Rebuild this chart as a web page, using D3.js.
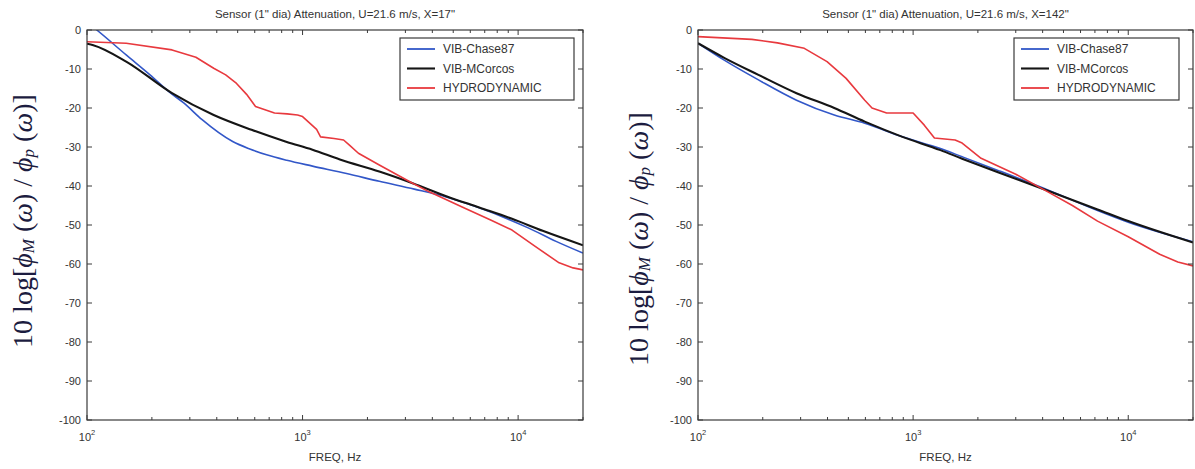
<!DOCTYPE html>
<html><head><meta charset="utf-8">
<script src="https://cdn.jsdelivr.net/npm/d3@7/dist/d3.min.js"></script>
<style>
html,body{margin:0;padding:0;background:#fff;}
svg{display:block;}
</style></head>
<body>
<svg id="chart" width="1195" height="469"></svg>
<script>
// ---- data ----
const seriesNames = ["VIB-Chase87", "VIB-MCorcos", "HYDRODYNAMIC"];
const titles = ["Sensor (1\" dia) Attenuation, U=21.6 m/s, X=17\"",
                "Sensor (1\" dia) Attenuation, U=21.6 m/s, X=142\""];
const yTicks = [0, -10, -20, -30, -40, -50, -60, -70, -80, -90, -100];
const xMajorTicks = [100, 1000, 10000];
const xMajorExp = ["2", "3", "4"];

// left panel (X=17")
const leftBlueF  = [100, 111, 152, 196, 242, 281, 342, 474, 569, 681, 845, 1112, 1600, 2270, 3300, 4640, 6600, 9000, 11200, 15000, 20000];
const leftBlueDB = [2.0, 0, -6.4, -11.5, -16, -18.7, -23, -28.6, -30.5, -32, -33.4, -34.9, -36.8, -38.8, -40.8, -42.8, -45.6, -48.5, -50.8, -54.2, -57.2];
const leftBlackF  = [100, 107, 152, 248, 387, 580, 845, 1112, 1490, 2270, 3240, 4640, 6600, 9370, 13000, 20000];
const leftBlackDB = [-3.5, -3.9, -8.1, -16.2, -21.8, -25.6, -28.7, -30.7, -33.2, -36.3, -39.3, -42.6, -45.5, -48.4, -51.5, -55.2];
const leftRedF  = [100, 152, 248, 320, 387, 440, 494, 550, 605, 680, 741, 848, 948, 1000, 1162, 1212, 1400, 1550, 1650, 1816, 2270, 3240, 3870, 5500, 7500, 9370, 12000, 15500, 18000, 20000];
const leftRedDB = [-3.0, -3.4, -5.1, -7.0, -9.8, -11.5, -13.7, -16.5, -19.6, -20.6, -21.3, -21.5, -21.8, -22.2, -25.5, -27.4, -27.8, -28.2, -29.5, -31.6, -34.6, -39.3, -41.5, -45.4, -48.8, -51.3, -55.5, -59.7, -61.0, -61.5];

// right panel (X=142")
const rightBlueF  = [100, 133, 191, 287, 430, 596, 892, 1340, 1690, 2480, 4230, 7200, 10000, 20000];
const rightBlueDB = [-3.4, -7.8, -12.8, -18, -21.8, -23.9, -27.4, -30.4, -32.5, -36, -41, -46.3, -49.3, -54.3];
const rightBlackF  = [100, 133, 191, 287, 430, 596, 892, 1340, 1690, 2480, 4230, 7200, 10000, 20000];
const rightBlackDB = [-3.4, -7.2, -11.5, -16.2, -20, -23.5, -27.4, -30.8, -33, -36.5, -41.2, -46, -49, -54.5];
const rightRedF  = [100, 178, 234, 312, 398, 488, 596, 644, 753, 1000, 1127, 1256, 1567, 1690, 2070, 3000, 4230, 5500, 7200, 10000, 14000, 17000, 20000];
const rightRedDB = [-1.7, -2.4, -3.3, -4.7, -8.1, -12.4, -18, -20, -21.3, -21.3, -24.4, -27.7, -28.2, -29, -32.9, -37, -41.5, -45, -49, -53, -57.5, -59.5, -60.5];

const colors = ["#3257c8", "#151515", "#e8393e"];

// ---- layout ----
const panels = [
  {left: 87, top: 30, width: 496, height: 390, legend: {x: 400, y: 38, w: 174, h: 62}, ylabX: 22, ylabY: 221,
   series: [[leftBlueF, leftBlueDB], [leftBlackF, leftBlackDB], [leftRedF, leftRedDB]]},
  {left: 698, top: 30, width: 495, height: 390, legend: {x: 1014, y: 38, w: 165, h: 62}, ylabX: 638, ylabY: 239,
   series: [[rightBlueF, rightBlueDB], [rightBlackF, rightBlackDB], [rightRedF, rightRedDB]]}
];

const svg = d3.select("#chart");
svg.append("rect").attr("width", 1195).attr("height", 469).attr("fill", "#fff");

const minorTicks = [];
[100, 1000, 10000].forEach(d => { for (let k = 2; k <= 9; k++) if (d * k <= 20000) minorTicks.push(d * k); });

panels.forEach((p, pi) => {
  const x = d3.scaleLog().domain([100, 20000]).range([p.left, p.left + p.width]);
  const y = d3.scaleLinear().domain([-100, 0]).range([p.top + p.height, p.top]);
  const g = svg.append("g");
  const axisColor = "#3a3a3a";

  const clipId = "clip" + pi;
  svg.append("clipPath").attr("id", clipId).append("rect")
    .attr("x", p.left).attr("y", p.top).attr("width", p.width).attr("height", p.height);

  // lines
  [0, 1, 2].forEach(si => {
    const [F, D] = p.series[si];
    const pts = F.map((f, i) => [f, D[i]]);
    const line = d3.line().x(d => x(d[0])).y(d => y(d[1]))
      .curve(si === 2 ? d3.curveLinear : d3.curveMonotoneX);
    g.append("path").attr("d", line(pts)).attr("fill", "none")
      .attr("stroke", colors[si]).attr("stroke-width", si === 1 ? 2.1 : 1.6)
      .attr("stroke-linejoin", "round")
      .attr("clip-path", `url(#${clipId})`);
  });

  // box
  g.append("rect").attr("x", p.left).attr("y", p.top).attr("width", p.width).attr("height", p.height)
    .attr("fill", "none").attr("stroke", axisColor).attr("stroke-width", 1.2);

  // y ticks (inward, both sides) and labels
  yTicks.forEach(t => {
    const yy = y(t);
    g.append("line").attr("x1", p.left).attr("x2", p.left + 5).attr("y1", yy).attr("y2", yy).attr("stroke", axisColor);
    g.append("line").attr("x1", p.left + p.width).attr("x2", p.left + p.width - 5).attr("y1", yy).attr("y2", yy).attr("stroke", axisColor);
    g.append("text").attr("x", p.left - 6).attr("y", yy).attr("dy", "0.35em")
      .attr("text-anchor", "end").attr("font-family", "Liberation Sans, Arial, sans-serif")
      .attr("font-size", 11).attr("fill", "#333").text(t);
  });

  // x ticks: major and minor, bottom and top
  xMajorTicks.forEach((t, i) => {
    const xx = x(t);
    g.append("line").attr("x1", xx).attr("x2", xx).attr("y1", p.top + p.height).attr("y2", p.top + p.height - 5).attr("stroke", axisColor);
    g.append("line").attr("x1", xx).attr("x2", xx).attr("y1", p.top).attr("y2", p.top + 5).attr("stroke", axisColor);
    const tx = g.append("text").attr("x", xx).attr("y", p.top + p.height + 21)
      .attr("text-anchor", "middle").attr("font-family", "Liberation Sans, Arial, sans-serif")
      .attr("font-size", 11).attr("fill", "#333");
    tx.append("tspan").text("10");
    tx.append("tspan").attr("dy", -6).attr("font-size", 7.5).text(xMajorExp[i]);
  });
  minorTicks.forEach(t => {
    const xx = x(t);
    g.append("line").attr("x1", xx).attr("x2", xx).attr("y1", p.top + p.height).attr("y2", p.top + p.height - 3).attr("stroke", axisColor);
    g.append("line").attr("x1", xx).attr("x2", xx).attr("y1", p.top).attr("y2", p.top + 3).attr("stroke", axisColor);
  });

  // titles
  g.append("text").attr("x", p.left + p.width / 2).attr("y", 18)
    .attr("text-anchor", "middle").attr("font-family", "Liberation Sans, Arial, sans-serif")
    .attr("font-size", 11.5).attr("fill", "#333").text(titles[pi]);
  g.append("text").attr("x", p.left + p.width / 2).attr("y", 461)
    .attr("text-anchor", "middle").attr("font-family", "Liberation Sans, Arial, sans-serif")
    .attr("font-size", 11.5).attr("fill", "#333").text("FREQ, Hz");

  // y label (serif, math style)
  const yl = g.append("text")
    .attr("transform", `translate(${p.ylabX},${p.ylabY}) rotate(-90)`)
    .attr("text-anchor", "middle").attr("dominant-baseline", "central")
    .attr("font-family", "Liberation Serif, Times New Roman, serif")
    .attr("font-size", 28).attr("fill", "#1c1c40");
  yl.append("tspan").text("10 log[");
  yl.append("tspan").attr("font-style", "italic").text("ϕ");
  yl.append("tspan").attr("font-style", "italic").attr("font-size", 17).attr("dy", 6).text("M");
  yl.append("tspan").attr("dy", -6).text(" (");
  yl.append("tspan").attr("font-style", "italic").text("ω");
  yl.append("tspan").text(") / ");
  yl.append("tspan").attr("font-style", "italic").text("ϕ");
  yl.append("tspan").attr("font-style", "italic").attr("font-size", 17).attr("dy", 6).text("p");
  yl.append("tspan").attr("dy", -6).text(" (");
  yl.append("tspan").attr("font-style", "italic").text("ω");
  yl.append("tspan").text(")]");

  // legend
  const L = p.legend;
  g.append("rect").attr("x", L.x).attr("y", L.y).attr("width", L.w).attr("height", L.h)
    .attr("fill", "#fff").attr("stroke", axisColor).attr("stroke-width", 1.2);
  seriesNames.forEach((name, si) => {
    const yy = L.y + 11 + si * 19.5;
    g.append("line").attr("x1", L.x + 7).attr("x2", L.x + 35).attr("y1", yy).attr("y2", yy)
      .attr("stroke", colors[si]).attr("stroke-width", si === 1 ? 2.1 : 1.8);
    g.append("text").attr("x", L.x + 43).attr("y", yy).attr("dy", "0.35em")
      .attr("font-family", "Liberation Sans, Arial, sans-serif").attr("font-size", 12)
      .attr("fill", "#333").text(name);
  });
});
</script>
</body></html>
